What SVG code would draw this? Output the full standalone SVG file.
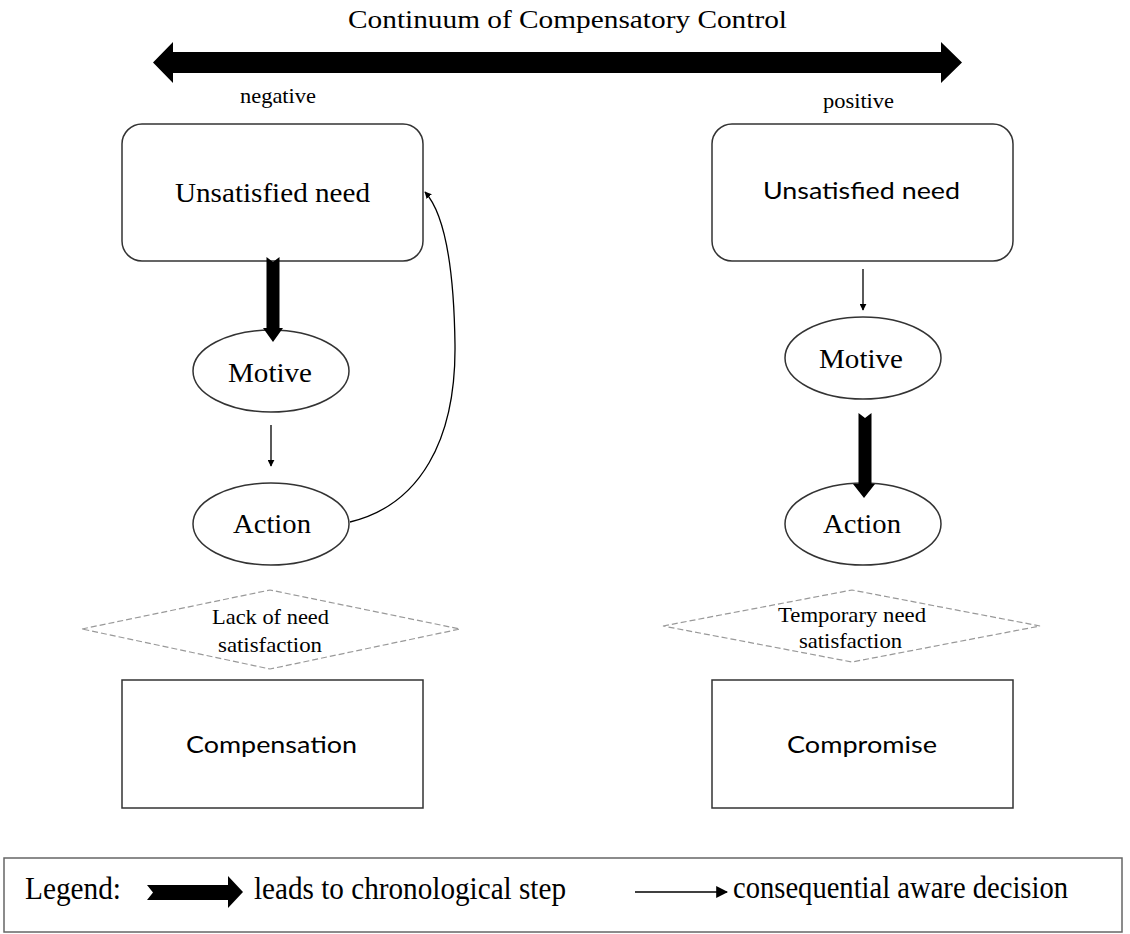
<svg xmlns="http://www.w3.org/2000/svg" width="1130" height="934" viewBox="0 0 1130 934">
<defs>
<style>
.serif{font-family:"Liberation Serif","Times New Roman",serif;fill:#000}
.sans{font-family:Lato,"Liberation Sans",Arial,sans-serif;fill:#000}
.box{fill:#fff;stroke:#333;stroke-width:1.5}
.dia{fill:none;stroke:#999;stroke-width:1.2;stroke-dasharray:6 3}
.thin{fill:none;stroke:#000;stroke-width:1.3}
.thick{fill:#000;stroke:none}
</style>
<marker id="ah" viewBox="0 0 10 10" refX="9" refY="5" markerWidth="7" markerHeight="7" markerUnits="userSpaceOnUse" orient="auto">
<path d="M0,0 L10,5 L0,10 Z" fill="#000"/>
</marker>
<marker id="ahL" viewBox="0 0 10 10" refX="9" refY="5" markerWidth="12" markerHeight="12" markerUnits="userSpaceOnUse" orient="auto">
<path d="M0,0 L10,5 L0,10 Z" fill="#000"/>
</marker>
</defs>
<rect width="1130" height="934" fill="#fff"/>

<g id="title">
<text class="serif" x="348" y="28" font-size="26" textLength="439" lengthAdjust="spacingAndGlyphs">Continuum of Compensatory Control</text>
<polygon class="thick" points="153,62.5 173,42 173,52 941,52 941,42 962,62.5 941,83 941,73 173,73 173,83"/>
<text class="serif" x="240" y="103" font-size="21" textLength="76" lengthAdjust="spacingAndGlyphs">negative</text>
<text class="serif" x="823" y="108" font-size="21" textLength="71" lengthAdjust="spacingAndGlyphs">positive</text>
</g>

<g id="left-need">
<rect class="box" x="122" y="124" width="301" height="137" rx="20" ry="20"/>
<text class="serif" x="175" y="202" font-size="27" textLength="195" lengthAdjust="spacingAndGlyphs">Unsatisfied need</text>
</g>
<g id="left-motive">
<ellipse class="box" cx="271" cy="371" rx="78" ry="41"/>
<text class="serif" x="228" y="382" font-size="27" textLength="84" lengthAdjust="spacingAndGlyphs">Motive</text>
</g>
<g id="left-action">
<ellipse class="box" cx="271" cy="524" rx="78" ry="41"/>
<text class="serif" x="233" y="533" font-size="27" textLength="78" lengthAdjust="spacingAndGlyphs">Action</text>
</g>
<g id="left-lack">
<polygon class="dia" points="82,629 270,590 460,629 270,669"/>
<text class="serif" x="212" y="624" font-size="21" textLength="117" lengthAdjust="spacingAndGlyphs">Lack of need</text>
<text class="serif" x="218" y="652" font-size="21" textLength="104" lengthAdjust="spacingAndGlyphs">satisfaction</text>
</g>
<g id="left-compensation">
<rect class="box" x="122" y="680" width="301" height="128"/>
<text class="sans" x="186" y="753" font-size="23" textLength="171" lengthAdjust="spacingAndGlyphs">Compensation</text>
</g>

<g id="right-need">
<rect class="box" x="712" y="124" width="301" height="137" rx="20" ry="20"/>
<text class="sans" x="763" y="199" font-size="24" textLength="197" lengthAdjust="spacingAndGlyphs">Unsatisfied need</text>
</g>
<g id="right-motive">
<ellipse class="box" cx="863" cy="358" rx="78" ry="41"/>
<text class="serif" x="819" y="368" font-size="27" textLength="84" lengthAdjust="spacingAndGlyphs">Motive</text>
</g>
<g id="right-action">
<ellipse class="box" cx="863" cy="524" rx="78" ry="41"/>
<text class="serif" x="823" y="533" font-size="27" textLength="78" lengthAdjust="spacingAndGlyphs">Action</text>
</g>
<g id="right-temporary">
<polygon class="dia" points="663,626 852,590 1040,626 852,662"/>
<text class="serif" x="778" y="622" font-size="21" textLength="148" lengthAdjust="spacingAndGlyphs">Temporary need</text>
<text class="serif" x="799" y="648" font-size="21" textLength="103" lengthAdjust="spacingAndGlyphs">satisfaction</text>
</g>
<g id="right-compromise">
<rect class="box" x="712" y="680" width="301" height="128"/>
<text class="sans" x="787" y="753" font-size="23" textLength="150" lengthAdjust="spacingAndGlyphs">Compromise</text>
</g>

<g id="connectors">
<path class="thick" d="M266.5,257 L273,262 L279.5,257 L279.5,328 L283,328 L273,342 L263,328 L266.5,328 Z"/>
<line class="thin" x1="271" y1="425" x2="271" y2="466" marker-end="url(#ah)"/>
<path class="thin" d="M350,522 C420,505 456,440 455,345 C454,270 446,215 425,192" marker-end="url(#ah)"/>
<line class="thin" x1="863" y1="269" x2="863" y2="310" marker-end="url(#ah)"/>
<path class="thick" d="M858.5,413 L865,418 L871.5,413 L871.5,484 L875,484 L864,498 L853,484 L858.5,484 Z"/>
</g>

<g id="legend">
<rect x="4" y="858" width="1118" height="74" fill="#fff" stroke="#666" stroke-width="1.5"/>
<text class="serif" x="25" y="899" font-size="31" textLength="96" lengthAdjust="spacingAndGlyphs">Legend:</text>
<polygon class="thick" points="147,885 228,885 228,876 243,892 228,908 228,900 147,900 153,892.5"/>
<text class="serif" x="254" y="899" font-size="31" textLength="312" lengthAdjust="spacingAndGlyphs">leads to chronological step</text>
<line class="thin" x1="635" y1="892" x2="727" y2="892" marker-end="url(#ahL)"/>
<text class="serif" x="733" y="898" font-size="31" textLength="335" lengthAdjust="spacingAndGlyphs">consequential aware decision</text>
</g>
</svg>
